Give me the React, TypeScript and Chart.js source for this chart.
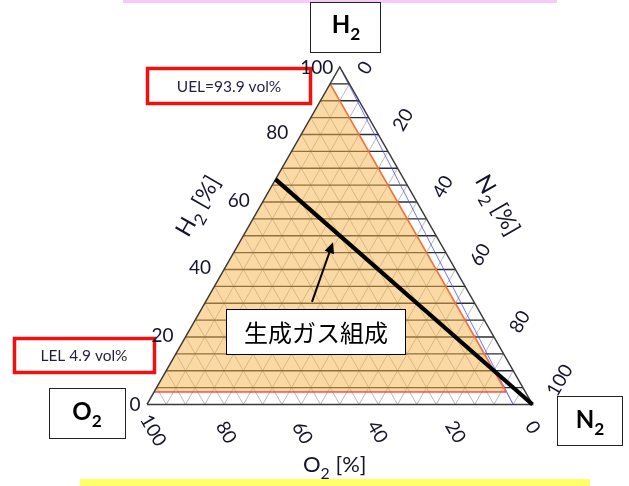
import React, { useEffect, useRef } from "react";
import { Chart, registerables } from "chart.js";

Chart.register(...registerables);

const W = 629;
const H = 486;

// ---------- data ----------
const H2_TICKS = [0, 20, 40, 60, 80, 100];
const N2_TICKS = [0, 20, 40, 60, 80, 100];
const O2_TICKS = [100, 80, 60, 40, 20, 0];
const GRID_STEPS = [5, 10, 15, 20, 25, 30, 35, 40, 45, 50, 55, 60, 65, 70, 75, 80, 85, 90, 95];

const UEL_TEXT = "UEL=93.9 vol%";
const LEL_TEXT = "LEL 4.9 vol%";
const GAS_TEXT = "生成ガス組成";

// flammable region corners (H2, O2, N2 in %)
const FLAM_H2 = [3.7, 95, 3.7];
const FLAM_O2 = [96.3, 5, 5];
const FLAM_N2 = [0, 0, 91.3];

// limiting oxygen line (orange)
const LOC_H2 = [95, 3.7];
const LOC_O2 = [5, 5];
const LOC_N2 = [0, 91.3];

// lower limit line (red)
const LOWER_H2 = [3.7, 3.7];
const LOWER_O2 = [96.3, 5];
const LOWER_N2 = [0, 91.3];

// blue line
const BLUE_H2 = [100, 0];
const BLUE_O2 = [0, 5];
const BLUE_N2 = [0, 95];

// produced gas composition line (black)
const GAS_H2 = [66.7, 0];
const GAS_O2 = [33.3, 0];
const GAS_N2 = [0, 100];

// arrow (tail -> head)
const ARROW_H2 = [30.4, 48.1];
const ARROW_O2 = [42.0, 27.7];
const ARROW_N2 = [27.6, 24.2];

// ---------- layout / style ----------
const X_MIN = -38.13;
const X_MAX = 125.03;
const Y_MIN = -24.15;
const Y_MAX = 119.85;

const H2_LABEL_OFF = [[-12, 0], [-23, -1], [-24, -1.5], [-24, -1.5], [-24, -1.5], [-23, 1]];
const N2_LABEL_OFF = [[25.5, 1], [25, -14.5], [26, -15], [25, -14.5], [26, -15], [27.5, -24]];
const O2_LABEL_OFF = [[6, 26], [2, 28], [1, 28.5], [-1, 27.5], [0, 27.5], [0, 23]];

const FONT = 'Lato, "Noto Sans", sans-serif';
const JP_FONT = '"Noto Sans CJK JP", "Noto Sans", sans-serif';
const TICK_COLOR = "#15152a";

function toXY(h: number, o: number, n: number) {
  return { x: n + h / 2, y: h };
}

function seg(hs: number[], os: number[], ns: number[]) {
  return hs.map((h, i) => toXY(h, os[i], ns[i]));
}

function lineDs(data: any[], color: string, width: number, order: number, extra: any = {}) {
  return {
    data,
    showLine: true,
    borderColor: color,
    borderWidth: width,
    pointRadius: 0,
    pointHoverRadius: 0,
    fill: false,
    tension: 0,
    order,
    ...extra,
  };
}

function drawSub(
  ctx: CanvasRenderingContext2D,
  parts: { t: string; sub?: boolean }[],
  x: number,
  y: number,
  size: number,
  weight: string,
  family: string
) {
  const subSize = size * 0.72;
  let total = 0;
  const widths = parts.map((p) => {
    ctx.font = `${weight} ${p.sub ? subSize : size}px ${family}`;
    const w = ctx.measureText(p.t).width;
    total += w;
    return w;
  });
  let cx = x - total / 2;
  const base = y + size * 0.36;
  ctx.textAlign = "left";
  ctx.textBaseline = "alphabetic";
  parts.forEach((p, i) => {
    ctx.font = `${weight} ${p.sub ? subSize : size}px ${family}`;
    ctx.fillText(p.t, cx, p.sub ? base + size * 0.3 : base);
    cx += widths[i];
  });
}

const decorPlugin = {
  id: "decor",
  beforeDraw(chart: any) {
    const ctx = chart.ctx;
    ctx.save();
    ctx.fillStyle = "#ffffff";
    ctx.fillRect(0, 0, chart.width, chart.height);
    ctx.restore();
  },
  afterDraw(chart: any) {
    const ctx: CanvasRenderingContext2D = chart.ctx;
    const xs = chart.scales.x;
    const ys = chart.scales.y;
    const tp = (h: number, o: number, n: number) => {
      const p = toXY(h, o, n);
      return [xs.getPixelForValue(p.x), ys.getPixelForValue(p.y)];
    };
    ctx.save();

    // top / bottom coloured bars
    ctx.fillStyle = "#F7C9F7";
    ctx.fillRect(123, 0, 434, 3);
    ctx.fillStyle = "#FFFF66";
    ctx.fillRect(80, 479, 510, 7);

    // arrow
    const [tx, ty] = tp(ARROW_H2[0], ARROW_O2[0], ARROW_N2[0]);
    const [hx, hy] = tp(ARROW_H2[1], ARROW_O2[1], ARROW_N2[1]);
    const ang = Math.atan2(hy - ty, hx - tx);
    const al = 11;
    const aw = 5;
    ctx.strokeStyle = "#000";
    ctx.lineWidth = 2;
    ctx.beginPath();
    ctx.moveTo(tx, ty);
    ctx.lineTo(hx - Math.cos(ang) * al * 0.8, hy - Math.sin(ang) * al * 0.8);
    ctx.stroke();
    ctx.fillStyle = "#000";
    ctx.beginPath();
    ctx.moveTo(hx, hy);
    ctx.lineTo(hx - Math.cos(ang) * al - Math.sin(ang) * aw, hy - Math.sin(ang) * al + Math.cos(ang) * aw);
    ctx.lineTo(hx - Math.cos(ang) * al + Math.sin(ang) * aw, hy - Math.sin(ang) * al - Math.cos(ang) * aw);
    ctx.closePath();
    ctx.fill();

    // gas label box
    ctx.fillStyle = "#fff";
    ctx.fillRect(226.5, 309.5, 179, 45);
    ctx.strokeStyle = "#000";
    ctx.lineWidth = 1;
    ctx.strokeRect(226.5, 309.5, 179, 45);
    ctx.fillStyle = "#000";
    ctx.font = `400 24px ${JP_FONT}`;
    ctx.textAlign = "center";
    ctx.textBaseline = "middle";
    ctx.fillText(GAS_TEXT, 316, 333);

    // red limit boxes
    ctx.strokeStyle = "#F01010";
    ctx.lineWidth = 3.5;
    ctx.strokeRect(147.5, 68.5, 163, 35);
    ctx.strokeRect(14.5, 338.5, 140, 34);
    ctx.fillStyle = "#231f3c";
    ctx.font = `400 15.5px ${FONT}`;
    ctx.textAlign = "center";
    ctx.textBaseline = "middle";
    ctx.fillText(UEL_TEXT, 229, 87);
    ctx.fillText(LEL_TEXT, 84, 356);

    // component boxes
    ctx.strokeStyle = "#222";
    ctx.lineWidth = 1;
    ctx.strokeRect(310.5, 2.5, 70, 50);
    ctx.strokeRect(49.5, 388.5, 76, 50);
    ctx.strokeRect(557.5, 396.5, 65, 49);
    ctx.fillStyle = "#000";
    drawSub(ctx, [{ t: "H" }, { t: "2", sub: true }], 346, 24, 24, "700", FONT);
    drawSub(ctx, [{ t: "O" }, { t: "2", sub: true }], 87, 411, 24, "700", FONT);
    drawSub(ctx, [{ t: "N" }, { t: "2", sub: true }], 590, 419, 24, "700", FONT);

    // tick labels
    ctx.fillStyle = TICK_COLOR;
    ctx.font = `400 19px ${FONT}`;
    ctx.textAlign = "center";
    ctx.textBaseline = "middle";
    H2_TICKS.forEach((v, i) => {
      const [x, y] = tp(v, 100 - v, 0);
      ctx.fillText(String(v), x + H2_LABEL_OFF[i][0], y + H2_LABEL_OFF[i][1]);
    });
    N2_TICKS.forEach((v, i) => {
      const [x, y] = tp(100 - v, 0, v);
      ctx.save();
      ctx.translate(x + N2_LABEL_OFF[i][0], y + N2_LABEL_OFF[i][1]);
      ctx.rotate(-Math.PI / 3);
      ctx.fillText(String(v), 0, 0);
      ctx.restore();
    });
    O2_TICKS.forEach((v, i) => {
      const [x, y] = tp(0, v, 100 - v);
      ctx.save();
      ctx.translate(x + O2_LABEL_OFF[i][0], y + O2_LABEL_OFF[i][1]);
      ctx.rotate(Math.PI / 3);
      ctx.fillText(String(v), 0, 0);
      ctx.restore();
    });

    // axis titles
    ctx.fillStyle = TICK_COLOR;
    const [lx, ly] = tp(50, 50, 0);
    ctx.save();
    ctx.translate(lx - 46, ly - 30);
    ctx.rotate(-Math.PI / 3);
    drawSub(ctx, [{ t: "H" }, { t: "2", sub: true }, { t: " [%]" }], 0, 0, 23, "400", FONT);
    ctx.restore();
    const [rx, ry] = tp(50, 0, 50);
    ctx.save();
    ctx.translate(rx + 62, ry - 31);
    ctx.rotate(Math.PI / 3);
    drawSub(ctx, [{ t: "N" }, { t: "2", sub: true }, { t: " [%]" }], 0, 0, 23, "400", FONT);
    ctx.restore();
    const [bx, by] = tp(0, 50, 50);
    drawSub(ctx, [{ t: "O" }, { t: "2", sub: true }, { t: " [%]" }], bx - 5, by + 60, 22, "400", FONT);

    ctx.restore();
  },
};

export default function App() {
  const ref = useRef<HTMLCanvasElement | null>(null);

  useEffect(() => {
    if (!ref.current) return;
    const datasets: any[] = [];

    // grid
    GRID_STEPS.forEach((v) => {
      datasets.push(lineDs([toXY(v, 100 - v, 0), toXY(v, 0, 100 - v)], "#2e2e2e", 1.3, 40));
      datasets.push(lineDs([toXY(0, 100 - v, v), toXY(100 - v, 0, v)], "#a8a8a8", 0.8, 45));
      datasets.push(lineDs([toXY(0, v, 100 - v), toXY(100 - v, v, 0)], "#a8a8a8", 0.8, 45));
    });

    // flammable region fill
    const flam = seg(FLAM_H2, FLAM_O2, FLAM_N2);
    datasets.push(
      lineDs([...flam, flam[0]], "rgba(0,0,0,0)", 0, 20, {
        fill: "shape",
        backgroundColor: "rgba(245,180,75,0.5)",
      })
    );

    // outline of triangle
    datasets.push(
      lineDs([toXY(0, 100, 0), toXY(100, 0, 0), toXY(0, 0, 100), toXY(0, 100, 0)], "#3a3a3a", 1.5, 6)
    );

    datasets.push(lineDs(seg(BLUE_H2, BLUE_O2, BLUE_N2), "rgba(70,70,255,0.75)", 1, 12));
    datasets.push(lineDs(seg(LOWER_H2, LOWER_O2, LOWER_N2), "rgba(250,40,40,0.8)", 1.6, 8));
    datasets.push(lineDs(seg(LOC_H2, LOC_O2, LOC_N2), "#F2733A", 1.6, 8));
    datasets.push(lineDs(seg(GAS_H2, GAS_O2, GAS_N2), "#000000", 4.2, 1));

    const chart = new Chart(ref.current, {
      type: "scatter",
      data: { datasets },
      plugins: [decorPlugin],
      options: {
        responsive: false,
        animation: false,
        devicePixelRatio: 1,
        events: [],
        layout: { padding: 0, autoPadding: false },
        plugins: {
          legend: { display: false },
          tooltip: { enabled: false },
        },
        scales: {
          x: { type: "linear", min: X_MIN, max: X_MAX, display: false },
          y: { type: "linear", min: Y_MIN, max: Y_MAX, display: false },
        },
      } as any,
    });
    return () => chart.destroy();
  }, []);

  return (
    <div style={{ position: "fixed", left: 0, top: 0, width: W, height: H, background: "#fff" }}>
      <canvas ref={ref} width={W} height={H} style={{ width: W, height: H, display: "block" }} />
    </div>
  );
}
